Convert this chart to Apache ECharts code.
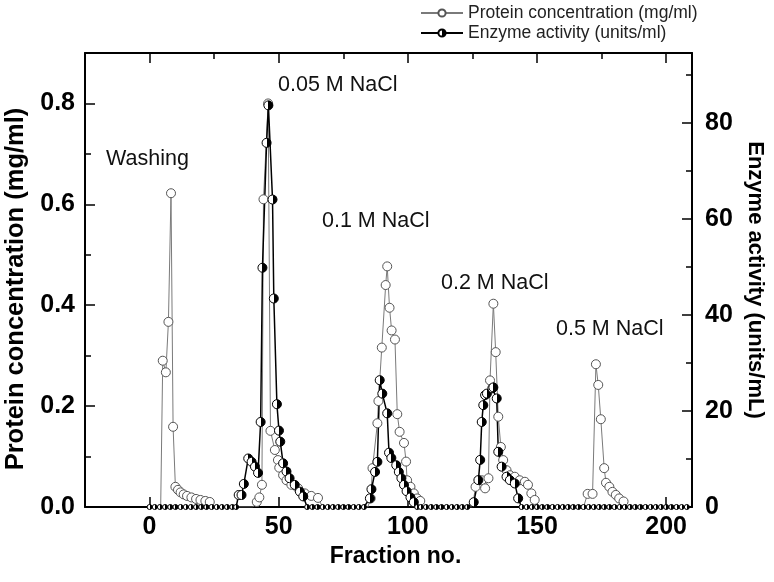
<!DOCTYPE html>
<html>
<head>
<meta charset="utf-8">
<script src="https://cdn.jsdelivr.net/npm/echarts@6/dist/echarts.min.js"></script>
<style>
  html, body { margin: 0; padding: 0; background: #fff; }
  #chart { width: 774px; height: 582px; }
</style>
</head>
<body>
<div id="chart"></div>
<script>
// 数据 - protein concentration (mg/ml)
var proteinFraction = [2, 4.3, 5.1, 6.3, 7.3, 8.3, 9.1, 10.0, 11.0, 12.0, 13.2, 14.5, 16.2, 18.0, 19.7, 21.6, 23.3, 25,
    40, 41.5, 42.5, 43.5, 44.1, 45.9, 46.8, 48.5, 49.7, 50.2, 51.7, 53.0, 54.9, 57.5, 60.1, 62.6, 65.2, 67,
    84.5, 85.6, 86.3, 88.2, 88.6, 89.9, 91.4, 92.0, 92.9, 93.7, 95.0, 95.9, 96.8, 98.5, 99.3, 99.7, 101, 102.3, 103.6, 104.8, 106,
    125, 126.2, 128.6, 129.9, 131.2, 131.8, 133.1, 134.0, 135.0, 136.0, 136.9, 138.2, 139.5, 141.4, 143.3, 145.3, 146.5, 147.8, 149.1, 150.5,
    168, 169.6, 171.5, 172.8, 173.7, 174.7, 176.0, 176.7, 178, 179.2, 180.5, 181.8, 183.5, 185];
var proteinConc = [0, 0, 0.29, 0.267, 0.367, 0.622, 0.159, 0.040, 0.034, 0.029, 0.025, 0.022, 0.019, 0.016, 0.014, 0.012, 0.010, 0,
    0, 0.010, 0.019, 0.044, 0.61, 0.80, 0.151, 0.113, 0.093, 0.078, 0.063, 0.053, 0.044, 0.037, 0.027, 0.022, 0.018, 0,
    0, 0.017, 0.077, 0.166, 0.21, 0.316, 0.44, 0.477, 0.395, 0.35, 0.332, 0.184, 0.149, 0.127, 0.09, 0.053, 0.04, 0.027, 0.017, 0.012, 0,
    0, 0.04, 0.053, 0.037, 0.057, 0.251, 0.403, 0.307, 0.179, 0.119, 0.093, 0.073, 0.063, 0.06, 0.053, 0.05, 0.044, 0.027, 0.014, 0,
    0, 0.026, 0.026, 0.283, 0.242, 0.174, 0.077, 0.048, 0.040, 0.030, 0.024, 0.017, 0.011, 0];

// 数据 - enzyme activity (units/ml)
var enzymeFraction = [0, 2, 4, 6, 8, 10, 12, 14, 16, 18, 20, 22, 24, 26, 28, 30, 32, 33.5,
    34.5, 35.6, 36.5, 38.2, 39.5, 40.8, 42.0, 43.0, 43.7, 45.3, 46.0, 47.6, 48.1, 49.3, 50.1, 50.6, 51.7, 53.0, 54.2, 56.2, 58.2, 59.5,
    61, 63, 65, 67, 69, 71, 73, 75, 77, 79, 81, 83,
    85.3, 85.9, 87.3, 88.2, 89.1, 90.1, 92.0, 92.7, 93.6, 95.5, 96.5, 97.5, 98.5, 99.5, 101, 102.3,
    103.6, 105, 107, 109, 111, 113, 115, 117, 119, 121, 123,
    125.5, 127.3, 128, 128.6, 129.2, 129.9, 130.6, 132.7, 133.1, 134.4, 135, 136.3, 138.2, 139.5, 141.4, 142.7,
    144, 146, 148, 150, 152, 154, 156, 158, 160, 162, 164, 166, 168, 170, 172, 174, 176, 178, 180, 182, 184,
    186, 188, 190, 192, 194, 196, 198, 200, 202, 204, 206, 208];
var enzymeAct = [0, 0, 0, 0, 0, 0, 0, 0, 0, 0, 0, 0, 0, 0, 0, 0, 0, 0,
    2.5, 2.5, 4.8, 10.1, 9.4, 8.4, 7.1, 17.7, 49.8, 75.8, 83.6, 64.0, 43.4, 21.4, 15.9, 13.6, 9.1, 7.4, 6.0, 4.6, 3.2, 2.2,
    0, 0, 0, 0, 0, 0, 0, 0, 0, 0, 0, 0,
    1.8, 3.7, 7.3, 9.4, 26.4, 23.6, 19.5, 11.3, 10.2, 8.7, 7.3, 6.0, 4.6, 3.3, 2.0, 1.0,
    0, 0, 0, 0, 0, 0, 0, 0, 0, 0, 0,
    1.0, 5.6, 9.8, 17.7, 21.2, 23.3, 23.6, 24.7, 24.9, 22.6, 11.5, 8.4, 6.3, 5.6, 4.9, 1.8,
    0, 0, 0, 0, 0, 0, 0, 0, 0, 0, 0, 0, 0, 0, 0, 0, 0, 0, 0, 0, 0,
    0, 0, 0, 0, 0, 0, 0, 0, 0, 0, 0, 0];

// 刻度
var xMajorTicks = [0, 50, 100, 150, 200];
var xMinorTicks = [25, 75, 125, 175];
var leftMajorTicks = [0, 0.2, 0.4, 0.6, 0.8];
var leftMinorTicks = [0.1, 0.3, 0.5, 0.7];
var rightMajorTicks = [0, 20, 40, 60, 80];
var rightMinorTicks = [10, 30, 50, 70, 90];

// 峰标注
var peakNames = ['Washing', '0.05 M NaCl', '0.1 M NaCl', '0.2 M NaCl', '0.5 M NaCl'];
var peakLabelPos = [[106, 160], [278, 86], [322, 222], [441, 284], [556, 330]];

var FONT = '"Liberation Sans", Arial, sans-serif';

function pairs(xs, ys) {
    var out = [];
    for (var i = 0; i < xs.length; i++) {
        out.push([xs[i], ys[i]]);
    }
    return out;
}

var chart = echarts.init(document.getElementById('chart'));

// 半黑半白的圆点
var halfFill = new echarts.graphic.LinearGradient(0, 0, 1, 0, [
    { offset: 0, color: '#fff' },
    { offset: 0.5, color: '#fff' },
    { offset: 0.5, color: '#000' },
    { offset: 1, color: '#000' }
]);

// 只画刻度的辅助坐标轴
function tickAxis(extra, ticks, len) {
    var base = {
        type: 'value',
        axisLine: { show: false, onZero: false },
        splitLine: { show: false },
        axisLabel: { show: false },
        axisTick: { show: true, inside: true, length: len, customValues: ticks, lineStyle: { color: '#000', width: 1.5 } }
    };
    return Object.assign(base, extra);
}

var option = {
    backgroundColor: '#fff',
    animation: false,
    textStyle: { fontFamily: FONT },
    grid: { left: 85, right: 82, top: 53, bottom: 75, outerBoundsMode: 'none', containLabel: false },
    legend: {
        orient: 'vertical',
        left: 415,
        top: 4,
        padding: [0, 5],
        itemWidth: 42,
        itemHeight: 9,
        itemGap: 2,
        textStyle: { fontSize: 17.5, color: '#222', fontFamily: FONT },
        data: ['Protein concentration (mg/ml)', 'Enzyme activity (units/ml)']
    },
    xAxis: [
        {
            type: 'value',
            min: -25,
            max: 210,
            name: 'Fraction no.',
            nameLocation: 'middle',
            nameGap: 30,
            nameTextStyle: { fontSize: 23, fontWeight: 'bold', color: '#000', fontFamily: FONT, padding: [0, 0, 0, 14] },
            axisLine: { show: true, onZero: false, lineStyle: { color: '#000', width: 2 } },
            splitLine: { show: false },
            axisTick: { show: true, inside: true, length: 10, customValues: xMajorTicks, lineStyle: { color: '#000', width: 1.5 } },
            axisLabel: { customValues: xMajorTicks, fontSize: 25, fontWeight: 'bold', color: '#000', margin: 8, fontFamily: FONT }
        },
        tickAxis({ min: -25, max: 210 }, xMinorTicks, 6),
        tickAxis({ min: -25, max: 210, position: 'top', axisLine: { show: true, onZero: false, lineStyle: { color: '#000', width: 2 } } }, xMajorTicks, 10),
        tickAxis({ min: -25, max: 210, position: 'top' }, xMinorTicks, 6)
    ],
    yAxis: [
        {
            type: 'value',
            min: 0,
            max: 0.9,
            position: 'left',
            name: 'Protein concentration (mg/ml)',
            nameLocation: 'middle',
            nameGap: 54,
            nameTextStyle: { fontSize: 25.5, fontWeight: 'bold', color: '#000', fontFamily: FONT, padding: [0, 18, 0, 0] },
            axisLine: { show: true, onZero: false, lineStyle: { color: '#000', width: 2 } },
            splitLine: { show: false },
            axisTick: { show: true, inside: true, length: 10, customValues: leftMajorTicks, lineStyle: { color: '#000', width: 1.5 } },
            axisLabel: { customValues: leftMajorTicks, fontSize: 25, fontWeight: 'bold', color: '#000', margin: 10, fontFamily: FONT,
                formatter: function (v) { return v.toFixed(1); } }
        },
        {
            type: 'value',
            min: 0,
            max: 94.5,
            position: 'right',
            name: 'Enzyme activity (units/mL)',
            nameLocation: 'middle',
            nameGap: 51,
            nameRotate: -90,
            nameTextStyle: { fontSize: 22, fontWeight: 'bold', color: '#000', fontFamily: FONT },
            axisLine: { show: true, onZero: false, lineStyle: { color: '#000', width: 2 } },
            splitLine: { show: false },
            axisTick: { show: true, inside: true, length: 10, customValues: rightMajorTicks, lineStyle: { color: '#000', width: 1.5 } },
            axisLabel: { customValues: rightMajorTicks, fontSize: 25, fontWeight: 'bold', color: '#000', margin: 13, fontFamily: FONT }
        },
        tickAxis({ min: 0, max: 0.9, position: 'left' }, leftMinorTicks, 6),
        tickAxis({ min: 0, max: 94.5, position: 'right' }, rightMinorTicks, 6)
    ],
    series: [
        {
            name: 'Protein concentration (mg/ml)',
            type: 'line',
            xAxisIndex: 0,
            yAxisIndex: 0,
            symbol: 'circle',
            symbolSize: function (v) { return v[1] === 0 ? 0 : 9; },
            lineStyle: { color: '#7a7a7a', width: 1 },
            itemStyle: { color: '#fff', borderColor: '#555', borderWidth: 1 },
            data: pairs(proteinFraction, proteinConc)
        },
        {
            name: 'Enzyme activity (units/ml)',
            type: 'line',
            xAxisIndex: 0,
            yAxisIndex: 1,
            symbol: 'circle',
            symbolSize: function (v) { return v[1] === 0 ? 5 : 9; },
            lineStyle: { color: '#000', width: 1.5 },
            itemStyle: { color: halfFill, borderColor: '#000', borderWidth: 1 },
            data: pairs(enzymeFraction, enzymeAct)
        }
    ],
    graphic: peakNames.map(function (t, i) {
        return {
            type: 'text',
            left: peakLabelPos[i][0],
            top: peakLabelPos[i][1] - 12,
            style: { text: t, fontSize: 21.5, fill: '#111', fontFamily: FONT }
        };
    })
};

chart.setOption(option);
</script>
</body>
</html>
